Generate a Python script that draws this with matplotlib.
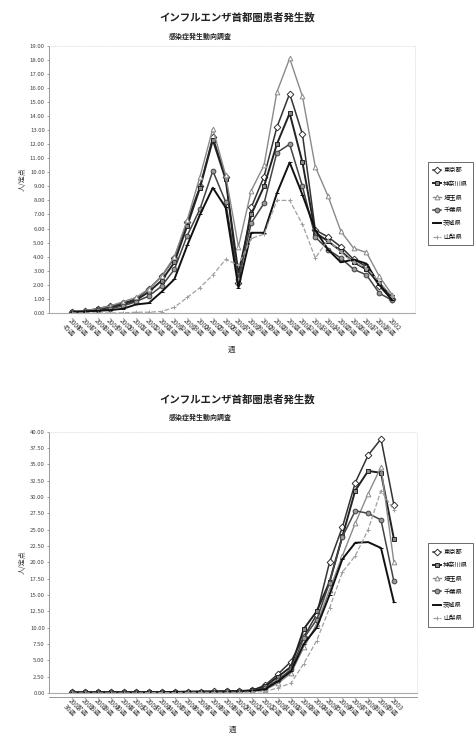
import matplotlib
matplotlib.use("Agg")
import matplotlib.pyplot as plt

plt.rcParams["font.family"] = ["Noto Sans CJK JP", "DejaVu Sans"]

TITLE = "インフルエンザ首都圏患者発生数"
SUBTITLE = "感染症発生動向調査"
PREFS = ["東京都", "神奈川県", "埼玉県", "千葉県", "茨城県", "山梨県"]

# season 1: week 45 (2001) .. week 18 (2002)
weeks_1 = [f"2001\n{w}週" for w in range(45, 53)] + [f"2002\n{w:02d}週" for w in range(1, 19)]
# season 2: week 36 (2002) .. week 9 (2003)
weeks_2 = [f"2002\n{w}週" for w in range(36, 53)] + [f"2003\n{w:02d}週" for w in range(1, 10)]

season_1 = {
    "東京都":   [0.1, 0.15, 0.3, 0.5, 0.7, 1.0, 1.7, 2.6, 3.9, 6.5, 9.0, 12.5, 9.7, 2.1, 7.5, 9.7, 13.2, 15.6, 12.7, 5.9, 5.4, 4.7, 3.8, 3.3, 1.9, 1.0],
    "神奈川県": [0.1, 0.1, 0.25, 0.4, 0.6, 0.9, 1.5, 2.3, 3.6, 6.2, 8.9, 12.3, 9.5, 2.8, 7.0, 9.0, 12.0, 14.2, 10.7, 5.7, 5.1, 4.4, 3.6, 3.1, 2.1, 1.1],
    "埼玉県":   [0.1, 0.15, 0.3, 0.5, 0.8, 1.1, 1.7, 2.6, 4.0, 6.6, 9.7, 13.1, 9.8, 4.7, 8.7, 10.5, 15.7, 18.1, 15.4, 10.4, 8.3, 5.8, 4.6, 4.3, 2.6, 1.3],
    "千葉県":   [0.05, 0.1, 0.2, 0.3, 0.5, 0.8, 1.2, 1.9, 3.1, 5.5, 7.4, 10.1, 7.9, 2.4, 6.4, 7.8, 11.4, 12.0, 9.0, 5.4, 4.5, 3.9, 3.1, 2.7, 1.4, 0.9],
    "茨城県":   [0.05, 0.1, 0.15, 0.2, 0.3, 0.6, 0.7, 1.5, 2.4, 4.8, 7.0, 8.9, 7.5, 1.8, 5.7, 5.7, 8.5, 10.7, 8.4, 5.9, 4.5, 3.6, 3.8, 3.5, 2.0, 0.9],
    "山梨県":   [0.0, 0.0, 0.0, 0.0, 0.0, 0.05, 0.05, 0.1, 0.4, 1.1, 1.8, 2.7, 3.8, 3.4, 5.3, 5.6, 8.0, 8.0, 6.3, 3.9, 5.2, 4.3, 3.6, 3.2, 2.2, 1.2],
}

season_2 = {
    "東京都":   [0.1, 0.1, 0.1, 0.1, 0.1, 0.1, 0.15, 0.15, 0.2, 0.2, 0.2, 0.25, 0.3, 0.3, 0.4, 1.2, 2.9, 4.8, 8.6, 12.0, 20.0, 25.4, 32.2, 36.4, 38.9, 28.8],
    "神奈川県": [0.1, 0.1, 0.1, 0.1, 0.1, 0.1, 0.1, 0.15, 0.15, 0.2, 0.2, 0.2, 0.25, 0.3, 0.4, 1.0, 2.5, 4.0, 9.8, 12.5, 17.0, 24.0, 31.0, 34.0, 33.7, 23.6],
    "埼玉県":   [0.05, 0.05, 0.1, 0.1, 0.1, 0.1, 0.1, 0.1, 0.15, 0.15, 0.2, 0.2, 0.2, 0.25, 0.3, 0.5, 1.5, 3.0, 7.0, 10.5, 15.8, 21.0, 26.0, 30.5, 34.6, 20.0],
    "千葉県":   [0.1, 0.1, 0.1, 0.1, 0.1, 0.1, 0.1, 0.15, 0.15, 0.2, 0.2, 0.2, 0.25, 0.3, 0.35, 0.8, 2.0, 3.6, 8.4, 11.2, 16.9, 23.9, 27.9, 27.5, 26.5, 17.1],
    "茨城県":   [0.05, 0.05, 0.1, 0.1, 0.1, 0.1, 0.1, 0.1, 0.15, 0.15, 0.2, 0.2, 0.2, 0.25, 0.3, 0.6, 1.8, 3.3, 7.5, 10.0, 15.0, 20.5, 23.0, 23.1, 22.2, 13.9],
    "山梨県":   [0.0, 0.0, 0.0, 0.0, 0.0, 0.0, 0.05, 0.05, 0.05, 0.1, 0.1, 0.1, 0.1, 0.1, 0.15, 0.2, 0.8, 1.5, 4.5, 8.0, 13.0, 18.5, 21.0, 25.0, 31.0, 28.0],
}

STYLES = {
    "東京都":   dict(color="#333333", marker="D", mfc="white", lw=1.1),
    "神奈川県": dict(color="#222222", marker="s", mfc="#888888", lw=1.4),
    "埼玉県":   dict(color="#8a8a8a", marker="^", mfc="white", lw=1.0),
    "千葉県":   dict(color="#444444", marker="o", mfc="#999999", lw=1.1),
    "茨城県":   dict(color="#111111", marker="_", mfc="#111111", lw=1.4),
    "山梨県":   dict(color="#a0a0a0", marker="+", mfc="#a0a0a0", lw=0.9, ls="--"),
}


def draw_panel(fig, rect, data, labels, ymax, ystep, title_y, legend_y):
    ax = fig.add_axes(rect)
    x = list(range(len(labels)))
    for name in PREFS:
        st = STYLES[name]
        ax.plot(x, data[name], color=st["color"], lw=st["lw"], ls=st.get("ls", "-"),
                marker=st["marker"], ms=3.4, mfc=st["mfc"], mec=st["color"], mew=0.7,
                label=name)

    ax.set_xlim(-1.8, len(labels) + 0.8)
    ax.set_ylim(0, ymax)
    ticks = [i * ystep for i in range(int(round(ymax / ystep)) + 1)]
    ax.set_yticks(ticks)
    ax.set_yticklabels([f"{t:.2f}" for t in ticks], fontsize=4.3, color="#444444")
    ax.set_xticks(x)
    ax.set_xticklabels(labels, fontsize=4.8, color="#444444", rotation=-45,
                       ha="left", va="top", rotation_mode="anchor", linespacing=0.95)
    ax.tick_params(axis="y", length=1.5, width=0.5, pad=1.5, colors="#777777", labelcolor="#444444")
    ax.tick_params(axis="x", length=0, pad=3)

    for side in ("top", "right"):
        ax.spines[side].set_color("#dddddd")
        ax.spines[side].set_linewidth(0.5)
        ax.spines[side].set_linestyle(":")
    ax.spines["left"].set_color("#888888")
    ax.spines["left"].set_linewidth(0.6)
    ax.spines["bottom"].set_color("#aaaaaa")
    ax.spines["bottom"].set_linewidth(0.8)

    ax.set_ylabel("人/定点", fontsize=5, color="#333333", labelpad=2)
    ax.set_xlabel("週", fontsize=5.5, color="#333333", labelpad=5)

    fig.text(0.5, title_y, TITLE, fontsize=7.5, fontweight="bold", ha="center", color="#222222")
    fig.text(0.355, title_y - 0.024, SUBTITLE, fontsize=5, fontweight="bold", ha="left", color="#222222")

    leg = fig.legend(loc="upper left", bbox_to_anchor=(0.895, legend_y), fontsize=4.5,
                     frameon=True, fancybox=False, edgecolor="#444444", borderpad=0.7,
                     handlelength=1.3, labelspacing=0.85, handletextpad=0.4,
                     handles=ax.get_lines())
    leg.get_frame().set_linewidth(0.7)
    return ax


fig = plt.figure(figsize=(4.75, 7.38), dpi=100)

draw_panel(fig, [0.103, 0.576, 0.771, 0.362], season_1, weeks_1, 19, 1,
           title_y=0.972, legend_y=0.785)
ax2 = draw_panel(fig, [0.103, 0.061, 0.775, 0.354], season_2, weeks_2, 40, 2.5,
                 title_y=0.455, legend_y=0.268)
ax2.axhline(-0.6, color="#888888", lw=0.6, clip_on=False)

fig.savefig("out.png", dpi=100)
